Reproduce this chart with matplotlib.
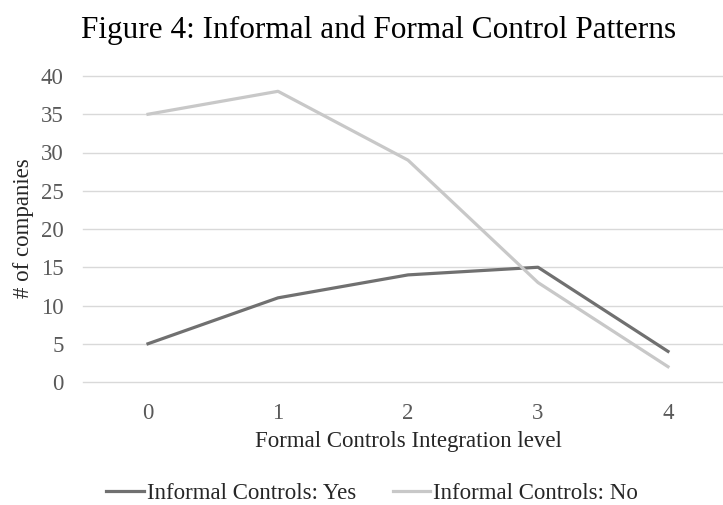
import matplotlib.pyplot as plt

levels = [0, 1, 2, 3, 4]
informal_yes = [5, 11, 14, 15, 4]
informal_no = [35, 38, 29, 13, 2]
y_ticks = [0, 5, 10, 15, 20, 25, 30, 35, 40]

plt.rcParams["font.family"] = ["Liberation Serif", "DejaVu Serif"]

W, H = 723, 505
fig = plt.figure(figsize=(W / 100, H / 100), dpi=100)
ax = fig.add_axes([83 / W, (H - 382) / H, 650 / W, 306 / H])

ax.plot(levels, informal_yes, color="#707070", linewidth=2.3,
        label="Informal Controls: Yes", clip_on=False, solid_joinstyle="round")
ax.plot(levels, informal_no, color="#c8c8c8", linewidth=2.3,
        label="Informal Controls: No", clip_on=False, solid_joinstyle="round")

ax.set_xlim(-0.5, 4.5)
ax.set_ylim(0, 40)
ax.set_xticks(levels)
ax.set_yticks(y_ticks)
ax.grid(axis="y", color="#d9d9d9", linewidth=1.0)
for gl in ax.get_ygridlines():
    gl.set_clip_on(False)
ax.set_axisbelow(True)
for s in ax.spines.values():
    s.set_visible(False)
ax.tick_params(length=0, labelsize=16.5, colors="#595959")
ax.tick_params(axis="y", pad=14)
ax.tick_params(axis="x", pad=15)

fig.text(408 / W, (H - 442) / H, "Formal Controls Integration level", fontsize=16.5,
         color="#262626", ha="center", va="center")
fig.text(23 / W, (H - 228) / H, "# of companies", rotation=90, fontsize=16.5,
         color="#262626", ha="center", va="center")
fig.text(379 / W, (H - 30) / H, "Figure 4: Informal and Formal Control Patterns",
         fontsize=22.5, ha="center", va="center", color="black")

fig.legend(loc="center", bbox_to_anchor=(372 / W, (H - 493) / H), ncol=2,
           frameon=False, fontsize=16.5, handlelength=1.65, handletextpad=0.1,
           columnspacing=1.6, labelcolor="#262626")

fig.savefig("out.png", dpi=100)
